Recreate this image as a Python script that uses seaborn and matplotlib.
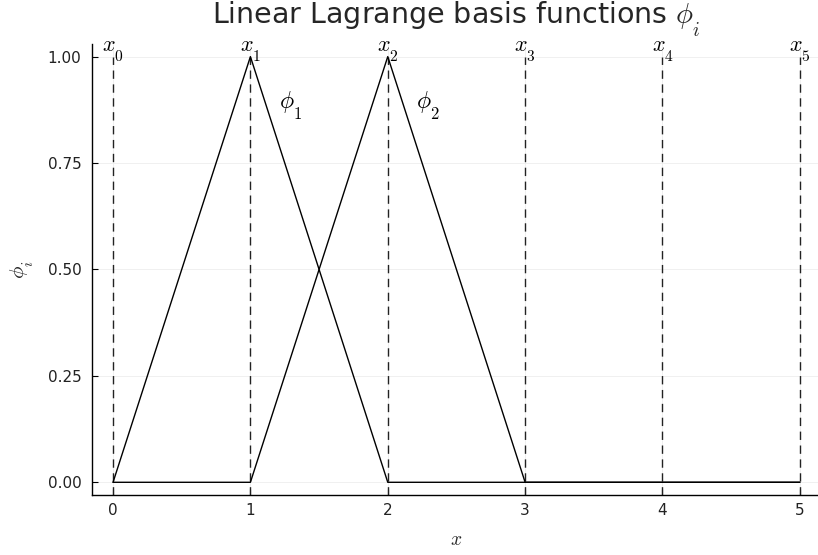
import numpy as np
import pandas as pd
import matplotlib
matplotlib.use("Agg")
import matplotlib.pyplot as plt
import matplotlib._mathtext as _mathtext
import seaborn as sns

# Mesh nodes and nodal values of the two hat functions
nodes = [0, 1, 2, 3, 4, 5]
phi1_values = [0, 1, 0, 0, 0, 0]
phi2_values = [0, 0, 1, 0, 0, 0]
node_labels = [r"$x_{0}$", r"$x_{1}$", r"$x_{2}$", r"$x_{3}$", r"$x_{4}$", r"$x_{5}$"]
basis_labels = [r"$\phi_{1}$", r"$\phi_{2}$"]
basis_label_pos = [(1.29, 0.883), (2.29, 0.883)]
yticks = [0.0, 0.25, 0.5, 0.75, 1.0]
ytick_labels = ["0.00", "0.25", "0.50", "0.75", "1.00"]

sns.set_theme(style="white")
plt.rcParams["font.family"] = ["DejaVu Sans"]
plt.rcParams["mathtext.fontset"] = "cm"
# deeper subscripts, LaTeX-plot style
_mathtext.ComputerModernFontConstants.sub1 = 0.55

df = pd.DataFrame({
    "x": nodes * 2,
    "phi": phi1_values + phi2_values,
    "basis": ["phi1"] * len(nodes) + ["phi2"] * len(nodes),
})

fig = plt.figure(figsize=(8.18, 5.55), dpi=100)
ax = fig.add_axes([0.113, 0.108, 0.890, 0.813])

# Node positions as dashed verticals
ax.vlines(nodes, -0.03, 1.0, colors="#222222", linestyles=(0, (6, 4)), linewidth=1.0, zorder=2)

sns.lineplot(data=df, x="x", y="phi", hue="basis", palette=["black", "black"],
             linewidth=1.0, legend=False, ax=ax, zorder=3)

for xi, lab in zip(nodes, node_labels):
    ax.text(xi, 1.012, lab, ha="center", va="center", fontsize=16, color="black")
for (px, py), lab in zip(basis_label_pos, basis_labels):
    ax.text(px, py, lab, ha="center", va="center", fontsize=17, color="black")

ax.set_xlim(-0.15, 5.15)
ax.set_ylim(-0.03, 1.03)
ax.set_xticks(nodes)
ax.set_xticklabels([str(n) for n in nodes])
ax.set_yticks(yticks)
ax.set_yticklabels(ytick_labels)

ax.grid(True, color="#eeeeee", linewidth=0.6, zorder=0)
ax.set_axisbelow(True)
for side in ["top", "right"]:
    ax.spines[side].set_visible(False)
for side in ["left", "bottom"]:
    ax.spines[side].set_color("black")
    ax.spines[side].set_linewidth(1.0)

ax.tick_params(axis="both", direction="in", length=4, width=0.8, color="black",
               labelsize=11, labelcolor="#222222", left=True, bottom=True)
ax.tick_params(axis="y", pad=8)
ax.tick_params(axis="x", pad=6)

ax.set_xlabel(r"$x$", fontsize=14, labelpad=8)
ax.set_ylabel(r"$\phi_{i}$", fontsize=15, labelpad=8)
ax.set_title(r"Linear Lagrange basis functions $\phi_{i}$", fontsize=20.5, pad=14.5)

fig.savefig("out.png", dpi=100)
